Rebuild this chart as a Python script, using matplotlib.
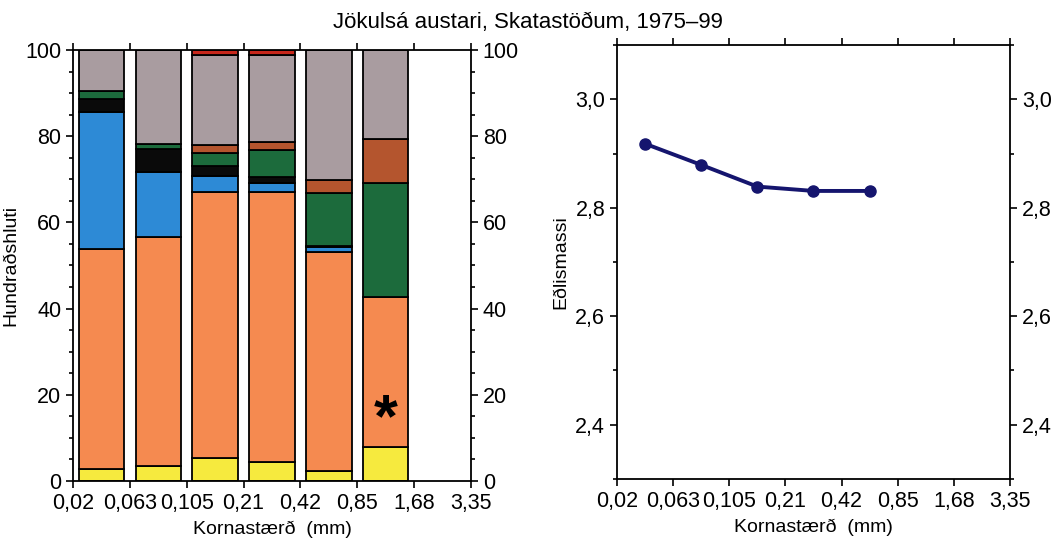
import numpy as np
import matplotlib
matplotlib.use("Agg")
import matplotlib.pyplot as plt
from matplotlib.ticker import MultipleLocator

plt.rcParams['font.family'] = ['Liberation Sans', 'DejaVu Sans']

# grain size class limits (mm)
limits = ["0,02", "0,063", "0,105", "0,21", "0,42", "0,85", "1,68", "3,35"]

# percentage of each component per size class (bottom to top)
yellow = [2.8, 3.5, 5.3, 4.4, 2.3, 7.9]
orange = [51.0, 53.1, 61.8, 62.7, 50.8, 34.8]
blue = [31.8, 15.1, 3.7, 2.0, 1.2, 0.0]
black = [3.1, 5.3, 2.3, 1.4, 0.3, 0.0]
green = [1.8, 1.3, 3.0, 6.3, 12.2, 26.4]
brown = [0.0, 0.0, 1.9, 1.9, 3.0, 10.2]
gray = [9.5, 21.7, 20.8, 20.1, 30.2, 20.7]
red = [0.0, 0.0, 1.2, 1.2, 0.0, 0.0]

# density per size class
density = [2.918, 2.879, 2.839, 2.831, 2.831]

layers = [yellow, orange, blue, black, green, brown, gray, red]
colors = ['#f6ea3e', '#f58a50', '#2d8ad6', '#0a0a0a', '#1c6b3c', '#b4552e', '#a99ca0', '#c8281c']

fig = plt.figure(figsize=(10.56, 5.43), dpi=100)
ax1 = fig.add_axes([0.0691, 0.1142, 0.3769, 0.7937])
ax2 = fig.add_axes([0.5843, 0.1179, 0.3721, 0.7992])

x = np.arange(len(yellow)) + 0.5
bottom = np.zeros(len(yellow))
for vals, c in zip(layers, colors):
    ax1.bar(x, vals, width=0.8, bottom=bottom, color=c, edgecolor='black', linewidth=1.3)
    bottom += np.array(vals)

ax1.text(x[5], 14, '*', fontsize=44, fontweight='bold', ha='center', va='center')

ax1.set_xlim(0, 7)
ax1.set_ylim(0, 100)
ax1.set_xticks(range(len(limits)))
ax1.set_xticklabels(limits)
ax1.yaxis.set_major_locator(MultipleLocator(20))
ax1.yaxis.set_minor_locator(MultipleLocator(5))
ax1.tick_params(axis='y', which='both', left=True, right=True, labelleft=True, labelright=True)
ax1.tick_params(axis='x', top=True)
ax1.set_ylabel('Hundraðshluti', fontsize=14)
ax1.set_xlabel('Kornastærð  (mm)', fontsize=14, labelpad=5)

ax2.plot(x[:len(density)], density, color='#15156e', linewidth=2.8, marker='o', markersize=8)
ax2.set_xlim(0, 7)
ax2.set_ylim(2.3, 3.1)
ax2.set_xticks(range(len(limits)))
ax2.set_xticklabels(limits)
ax2.set_yticks([2.4, 2.6, 2.8, 3.0])
ax2.set_yticklabels(['2,4', '2,6', '2,8', '3,0'])
ax2.yaxis.set_minor_locator(MultipleLocator(0.1))
ax2.tick_params(axis='y', which='both', left=True, right=True, labelleft=True, labelright=True)
ax2.tick_params(axis='x', top=True)
ax2.set_ylabel('Eðlismassi', fontsize=14)
ax2.set_xlabel('Kornastærð  (mm)', fontsize=14, labelpad=5)

for ax in (ax1, ax2):
    ax.tick_params(which='both', labelsize=15.5, width=1.2, direction='out')
    ax.tick_params(which='major', length=5)
    ax.tick_params(which='minor', length=3)
    for s in ax.spines.values():
        s.set_linewidth(1.3)

fig.text(0.5, 0.958, 'Jökulsá austari, Skatastöðum, 1975–99', ha='center', va='center', fontsize=16)

fig.savefig('out.png', dpi=100)
